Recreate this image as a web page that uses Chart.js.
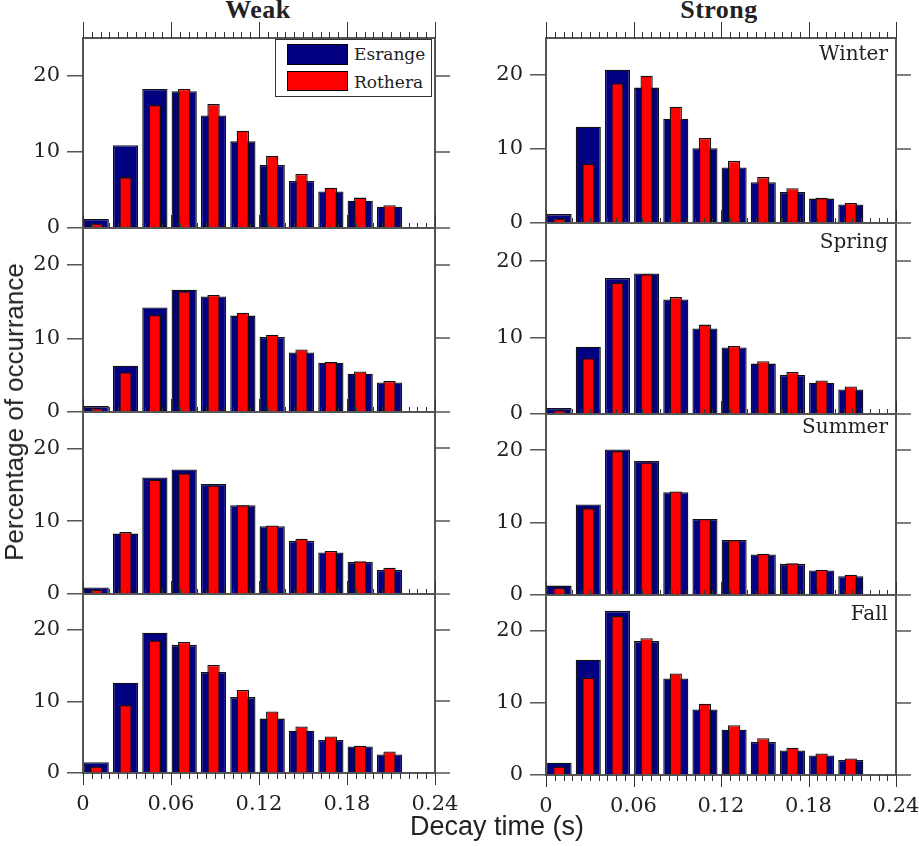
<!DOCTYPE html>
<html>
<head>
<meta charset="utf-8">
<script src="https://cdn.jsdelivr.net/npm/chart.js@4.4.1/dist/chart.umd.min.js"></script>
<style>
  body { margin: 0; width: 919px; height: 846px; position: relative; overflow: hidden; background: #fff; color: #222; }
  canvas { position: absolute; }
  .txt { position: absolute; white-space: nowrap; }
  .head { font: bold 26px "Liberation Serif", serif; line-height: 26px; top: -3px; transform: translateX(-50%); letter-spacing: 0.5px; }
  .season { font: 20px "DejaVu Serif", serif; line-height: 20px; right: 31px; }
  .legend { position: absolute; left: 275px; top: 39px; width: 155px; height: 56px; border: 1.5px solid #333; background: #fff; }
  .sw { position: absolute; left: 11px; width: 59px; border: 1px solid #000; }
  .lt { position: absolute; left: 78px; font: 17px "DejaVu Serif", serif; line-height: 17px; }
</style>
</head>
<body>
<div class="txt head" style="left:258px">Weak</div>
<div class="txt head" style="left:719px">Strong</div>

<script>
// bin centres (s)
const bins = [0.009, 0.029, 0.049, 0.069, 0.089, 0.109, 0.129, 0.149, 0.169, 0.189, 0.209];
const xTicks = [0, 0.06, 0.12, 0.18, 0.24];
const yTicks = [0, 10, 20];

// percentage of occurrence, Esrange / Rothera
const weakWinterEsr = [1.2, 10.9, 18.3, 18.0, 14.8, 11.4, 8.3, 6.2, 4.8, 3.6, 2.8];
const weakWinterRot = [0.6, 6.7, 16.2, 18.3, 16.3, 12.8, 9.5, 7.1, 5.3, 4.0, 3.0];
const strongWinterEsr = [1.2, 13.0, 20.7, 18.3, 14.1, 10.1, 7.5, 5.5, 4.2, 3.3, 2.5];
const strongWinterRot = [0.6, 8.0, 18.9, 19.9, 15.7, 11.5, 8.4, 6.2, 4.7, 3.4, 2.7];
const weakSpringEsr = [0.8, 6.3, 14.2, 16.6, 15.7, 13.1, 10.2, 8.1, 6.7, 5.2, 4.0];
const weakSpringRot = [0.5, 5.4, 13.2, 16.4, 15.9, 13.5, 10.5, 8.5, 6.8, 5.5, 4.2];
const strongSpringEsr = [0.8, 8.8, 17.8, 18.4, 15.0, 11.2, 8.7, 6.6, 5.1, 4.1, 3.2];
const strongSpringRot = [0.5, 7.3, 17.2, 18.3, 15.3, 11.7, 8.9, 6.9, 5.5, 4.4, 3.6];
const weakSummerEsr = [0.9, 8.3, 16.0, 17.1, 15.1, 12.2, 9.3, 7.3, 5.7, 4.4, 3.3];
const weakSummerRot = [0.6, 8.5, 15.7, 16.6, 14.9, 12.2, 9.4, 7.6, 5.9, 4.5, 3.6];
const strongSummerEsr = [1.3, 12.5, 20.1, 18.5, 14.2, 10.5, 7.6, 5.6, 4.3, 3.4, 2.6];
const strongSummerRot = [1.0, 12.0, 19.9, 18.3, 14.3, 10.5, 7.6, 5.7, 4.4, 3.5, 2.8];
const weakFallEsr = [1.5, 12.6, 19.6, 17.9, 14.1, 10.6, 7.6, 5.9, 4.6, 3.7, 2.6];
const weakFallRot = [0.9, 9.5, 18.5, 18.3, 15.1, 11.6, 8.6, 6.5, 5.1, 3.8, 3.0];
const strongFallEsr = [1.7, 16.0, 22.8, 18.6, 13.4, 9.1, 6.3, 4.6, 3.4, 2.7, 2.1];
const strongFallRot = [1.2, 13.5, 22.1, 19.0, 14.1, 9.9, 6.9, 5.1, 3.8, 3.0, 2.3];

const cols = [
  { x0: 0, left: 83, right: 435 },
  { x0: 460, left: 546, right: 896 },
];
const panels = [
  { col: 0, row: 0, esr: weakWinterEsr, rot: weakWinterRot, top: 38, bottom: 228 },
  { col: 1, row: 0, esr: strongWinterEsr, rot: strongWinterRot, top: 38, bottom: 223 },
  { col: 0, row: 1, esr: weakSpringEsr, rot: weakSpringRot, top: 228, bottom: 412 },
  { col: 1, row: 1, esr: strongSpringEsr, rot: strongSpringRot, top: 223, bottom: 414 },
  { col: 0, row: 2, esr: weakSummerEsr, rot: weakSummerRot, top: 412, bottom: 594 },
  { col: 1, row: 2, esr: strongSummerEsr, rot: strongSummerRot, top: 414, bottom: 595 },
  { col: 0, row: 3, esr: weakFallEsr, rot: weakFallRot, top: 594, bottom: 773 },
  { col: 1, row: 3, esr: strongFallEsr, rot: strongFallRot, top: 595, bottom: 775 },
];

const CW = 480;
const serif = { family: "'DejaVu Serif', serif", size: 21 };

const framePlugin = {
  id: "frame",
  afterDraw(chart, args, opts) {
    const { ctx, chartArea: a } = chart;
    const x = chart.scales.x, y = chart.scales.y;
    const line = (x1, y1, x2, y2) => { ctx.beginPath(); ctx.moveTo(x1, y1); ctx.lineTo(x2, y2); ctx.stroke(); };
    ctx.save();
    ctx.strokeStyle = "#555";
    ctx.lineWidth = 2;
    ctx.strokeRect(a.left, a.top, a.right - a.left, a.bottom - a.top);
    ctx.lineWidth = 1.5;
    yTicks.forEach(v => { const py = Math.round(y.getPixelForValue(v)); line(a.right, py, a.right + 15, py); });
    // minor ticks every 0.006, major every 0.06
    ctx.lineWidth = 1;
    ctx.strokeStyle = "#333";
    for (let i = 0; i <= 40; i++) {
      const px = Math.round(x.getPixelForValue(i * 0.006)) + 0.5;
      const major = i % 10 === 0;
      if (opts.top) line(px, a.top, px, a.top - (major ? 16 : 6));
      const len = opts.bottom ? (major ? 12 : 6) : (major ? 13 : 5);
      line(px, a.bottom, px, a.bottom + (opts.bottom ? len : -len));
    }
    ctx.restore();
  },
};

const toXY = vals => bins.map((b, i) => ({ x: b, y: vals[i] }));

panels.forEach(p => {
  const col = cols[p.col];
  const last = p.row === 3;
  const h = p.bottom - p.top;
  const cv = document.createElement("canvas");
  cv.width = CW;
  cv.height = h + 30 + (last ? 60 : 30);
  cv.style.left = col.x0 + "px";
  cv.style.top = (p.top - 30) + "px";
  document.body.appendChild(cv);

  new Chart(cv, {
    type: "bar",
    data: {
      datasets: [
        {
          label: "Rothera",
          data: toXY(p.rot),
          backgroundColor: "#ff0000",
          borderColor: "#111",
          borderWidth: 1.3,
          barPercentage: 0.42,
          categoryPercentage: 1,
          grouped: false,
          order: 0,
        },
        {
          label: "Esrange",
          data: toXY(p.esr),
          backgroundColor: "#000080",
          borderColor: "#111",
          borderWidth: 1.3,
          barPercentage: 0.86,
          categoryPercentage: 1,
          grouped: false,
          order: 1,
        },
      ],
    },
    options: {
      responsive: false,
      animation: false,
      devicePixelRatio: 1,
      layout: { padding: { top: 30, bottom: last ? 15 : 30, left: 0, right: CW - (col.right - col.x0) } },
      plugins: {
        legend: { display: false },
        tooltip: { enabled: false },
        frame: { top: p.row === 0, bottom: last },
      },
      scales: {
        x: {
          type: "linear",
          min: 0,
          max: 0.24,
          offset: false,
          display: last,
          grid: { display: false, drawTicks: false },
          border: { display: false },
          ticks: {
            stepSize: 0.06,
            autoSkip: false,
            maxRotation: 0,
            padding: 19,
            color: "#222",
            font: serif,
            callback: v => {
              const t = xTicks.find(k => Math.abs(k - v) < 1e-6);
              return t === undefined ? "" : (t === 0 ? "0" : t.toFixed(2));
            },
          },
          afterFit: s => { s.height = last ? 45 : 0; },
        },
        y: {
          min: 0,
          max: 25,
          ticks: { stepSize: 10, includeBounds: false, padding: 7, color: "#222", font: serif },
          grid: { drawOnChartArea: false, drawTicks: true, tickLength: 16, color: "#555", lineWidth: 1.5 },
          border: { display: false },
          afterFit: s => { s.width = col.left - col.x0; },
        },
      },
    },
    plugins: [framePlugin],
  });
});
</script>

<div class="txt season" style="top:43px">Winter</div>
<div class="txt season" style="top:231px">Spring</div>
<div class="txt season" style="top:416px">Summer</div>
<div class="txt season" style="top:603px">Fall</div>
<div class="txt" style="left:497px;top:813px;transform:translateX(-50%);font:27px 'Liberation Sans',sans-serif;line-height:27px">Decay time (s)</div>
<div class="txt" style="left:14px;top:412px;transform:translate(-50%,-50%) rotate(-90deg);font:26px 'Liberation Sans',sans-serif;line-height:26px">Percentage of occurrance</div>
<div class="legend">
  <div class="sw" style="top:4px;height:19px;background:#000080"></div>
  <div class="lt" style="top:6px">Esrange</div>
  <div class="sw" style="top:31px;height:18px;background:#ff0000"></div>
  <div class="lt" style="top:34px">Rothera</div>
</div>
</body>
</html>
